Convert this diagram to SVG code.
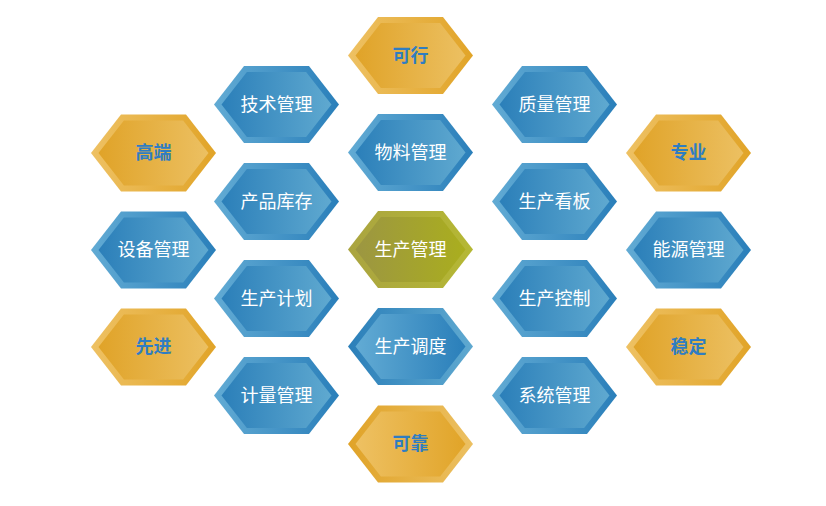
<svg xmlns="http://www.w3.org/2000/svg" width="826" height="506" viewBox="0 0 826 506">
<style>
text{font-family:"Noto Sans CJK SC","Microsoft YaHei",sans-serif;font-size:18px;text-anchor:middle;dominant-baseline:central}
.tg{fill:#2F7DC2;font-weight:bold}
.tb{fill:#ffffff}
</style>
<defs>
<polygon id="ho" points="-62.5,0 -32.5,-38.5 32.5,-38.5 62.5,0 32.5,38.5 -32.5,38.5"/>
<polygon id="hi" points="-55,0 -29.6,-32.5 29.6,-32.5 55,0 29.6,32.5 -29.6,32.5"/>
<linearGradient id="goL" x1="0" y1="0" x2="1" y2="0"><stop offset="0" stop-color="#EEC163"/><stop offset="1" stop-color="#E1A428"/></linearGradient>
<linearGradient id="giD" x1="0" y1="0" x2="1" y2="0"><stop offset="0" stop-color="#E0A328"/><stop offset="1" stop-color="#ECC062"/></linearGradient>
<linearGradient id="boL" x1="0" y1="0" x2="1" y2="0"><stop offset="0" stop-color="#62ABD4"/><stop offset="1" stop-color="#2A7FBA"/></linearGradient>
<linearGradient id="biD" x1="0" y1="0" x2="1" y2="0"><stop offset="0" stop-color="#2B7FB9"/><stop offset="1" stop-color="#5FA9D0"/></linearGradient>
<linearGradient id="ooL" x1="0" y1="0" x2="1" y2="0"><stop offset="0" stop-color="#AAA440"/><stop offset="1" stop-color="#B5B834"/></linearGradient>
<linearGradient id="oiD" x1="0" y1="0" x2="1" y2="0"><stop offset="0" stop-color="#9C9642"/><stop offset="1" stop-color="#AAAE1E"/></linearGradient>
</defs>
<g id="connectors"/>
<g id="n-kexing" transform="translate(410.5,55.5)"><use href="#ho" fill="url(#goL)"/><use href="#hi" fill="url(#giD)"/><text class="tg" y="-2">可行</text></g>
<g id="n-wuliao" transform="translate(410.5,152.5)"><use href="#ho" fill="url(#boL)"/><use href="#hi" fill="url(#biD)"/><text class="tb" y="-2">物料管理</text></g>
<g id="n-shengchanguanli" transform="translate(410.5,249.5)"><use href="#ho" fill="url(#ooL)"/><use href="#hi" fill="url(#oiD)"/><text class="tb" y="-2">生产管理</text></g>
<g id="n-diaodu" transform="translate(410.5,346.5)"><use href="#ho" fill="url(#biD)"/><use href="#hi" fill="url(#boL)"/><text class="tb" y="-2">生产调度</text></g>
<g id="n-kekao" transform="translate(410.5,444)"><use href="#ho" fill="url(#giD)"/><use href="#hi" fill="url(#goL)"/><text class="tg" y="-2">可靠</text></g>
<g id="n-jishu" transform="translate(276.5,104.5)"><use href="#ho" fill="url(#boL)"/><use href="#hi" fill="url(#biD)"/><text class="tb" y="-2">技术管理</text></g>
<g id="n-kucun" transform="translate(276.5,201.5)"><use href="#ho" fill="url(#boL)"/><use href="#hi" fill="url(#biD)"/><text class="tb" y="-2">产品库存</text></g>
<g id="n-jihua" transform="translate(276.5,298.5)"><use href="#ho" fill="url(#boL)"/><use href="#hi" fill="url(#biD)"/><text class="tb" y="-2">生产计划</text></g>
<g id="n-jiliang" transform="translate(276.5,395.5)"><use href="#ho" fill="url(#boL)"/><use href="#hi" fill="url(#biD)"/><text class="tb" y="-2">计量管理</text></g>
<g id="n-zhiliang" transform="translate(554.5,104.5)"><use href="#ho" fill="url(#boL)"/><use href="#hi" fill="url(#biD)"/><text class="tb" y="-2">质量管理</text></g>
<g id="n-kanban" transform="translate(554.5,201.5)"><use href="#ho" fill="url(#boL)"/><use href="#hi" fill="url(#biD)"/><text class="tb" y="-2">生产看板</text></g>
<g id="n-kongzhi" transform="translate(554.5,298.5)"><use href="#ho" fill="url(#boL)"/><use href="#hi" fill="url(#biD)"/><text class="tb" y="-2">生产控制</text></g>
<g id="n-xitong" transform="translate(554.5,395.5)"><use href="#ho" fill="url(#boL)"/><use href="#hi" fill="url(#biD)"/><text class="tb" y="-2">系统管理</text></g>
<g id="n-gaoduan" transform="translate(153.5,153)"><use href="#ho" fill="url(#goL)"/><use href="#hi" fill="url(#giD)"/><text class="tg" y="-2">高端</text></g>
<g id="n-shebei" transform="translate(153.5,250)"><use href="#ho" fill="url(#boL)"/><use href="#hi" fill="url(#biD)"/><text class="tb" y="-2">设备管理</text></g>
<g id="n-xianjin" transform="translate(153.5,347)"><use href="#ho" fill="url(#goL)"/><use href="#hi" fill="url(#giD)"/><text class="tg" y="-2">先进</text></g>
<g id="n-zhuanye" transform="translate(688.5,153)"><use href="#ho" fill="url(#goL)"/><use href="#hi" fill="url(#giD)"/><text class="tg" y="-2">专业</text></g>
<g id="n-nengyuan" transform="translate(688.5,250)"><use href="#ho" fill="url(#boL)"/><use href="#hi" fill="url(#biD)"/><text class="tb" y="-2">能源管理</text></g>
<g id="n-wending" transform="translate(688.5,347)"><use href="#ho" fill="url(#goL)"/><use href="#hi" fill="url(#giD)"/><text class="tg" y="-2">稳定</text></g>
</svg>
